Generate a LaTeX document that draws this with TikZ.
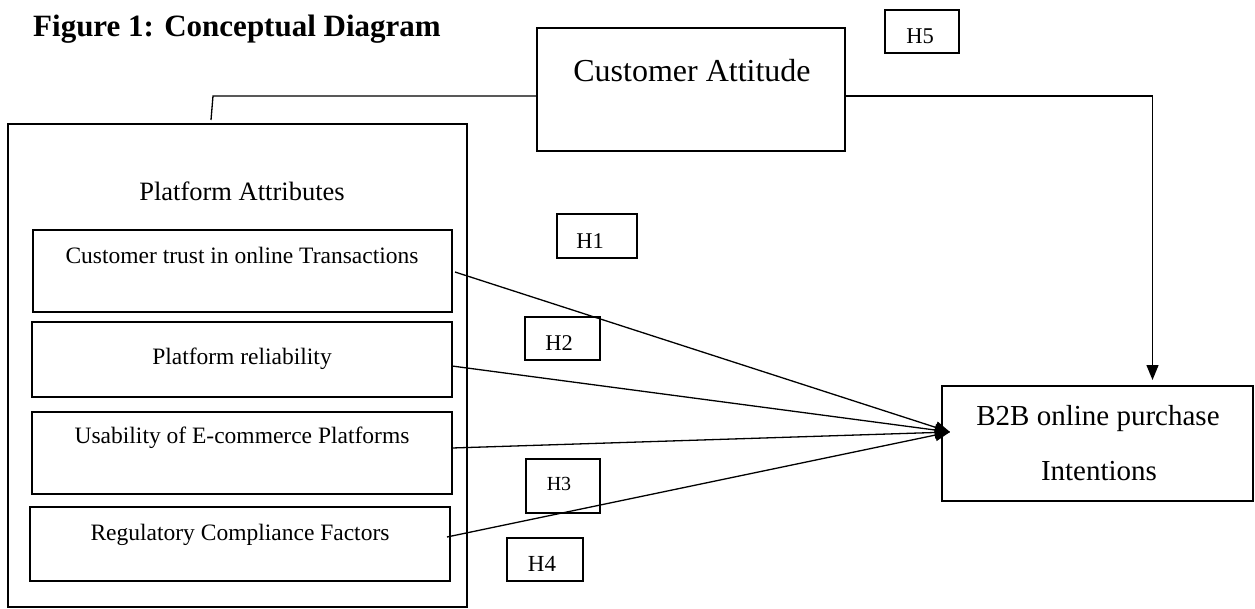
\documentclass[tikz,border=0pt]{standalone}
\usepackage{fontspec}
\setmainfont{Liberation Serif}
\usetikzlibrary{arrows.meta}
\begin{document}
\begin{tikzpicture}[x=1pt,y=-1pt,
  thickbox/.style={draw, line width=2pt, inner sep=0pt, outer sep=0pt, anchor=north west},
  midbox/.style={draw, line width=1.7pt, inner sep=0pt, outer sep=0pt, anchor=north west},
  hbox/.style={draw, line width=1.3pt, inner sep=0pt, outer sep=0pt, anchor=north west},
  txt/.style={inner sep=0pt, anchor=base},
  conn/.style={line width=1.3pt},
  tip/.style={-{Triangle[length=15pt,width=12pt]}}
]
\useasboundingbox (0,0) rectangle (1255,608);

% title
\node[inner sep=0pt, anchor=base west, font=\fontsize{31}{36}\selectfont\bfseries] (title) at (33,36) {Figure 1: Conceptual Diagram};

% boxes
\node[thickbox, minimum width=308pt, minimum height=123pt] (ca) at (537,28) {};
\node[hbox, minimum width=74pt, minimum height=43pt] (h5) at (885,10) {};
\node[thickbox, minimum width=459pt, minimum height=483pt] (pa) at (8,124) {};
\node[midbox, minimum width=419pt, minimum height=82pt] (b1) at (33,230) {};
\node[midbox, minimum width=420pt, minimum height=75pt] (b2) at (32,322) {};
\node[midbox, minimum width=420pt, minimum height=82pt] (b3) at (32,412) {};
\node[midbox, minimum width=420pt, minimum height=74pt] (b4) at (30,507) {};
\node[hbox, minimum width=80pt, minimum height=44pt] (h1) at (557,214) {};
\node[hbox, minimum width=75pt, minimum height=43pt] (h2) at (525,317) {};
\node[hbox, minimum width=74pt, minimum height=54pt] (h3) at (526,459) {};
\node[hbox, minimum width=76pt, minimum height=43pt] (h4) at (507,538) {};
\node[thickbox, minimum width=311pt, minimum height=115pt] (b2b) at (942,386) {};

% texts
\node[txt, font=\fontsize{32}{38}\selectfont] (catext) at (692,81) {Customer Attitude};
\node[txt, font=\fontsize{26.5}{32}\selectfont] (patext) at (242,200) {Platform Attributes};
\node[txt, font=\fontsize{23.5}{28}\selectfont] (t1) at (242,263) {Customer trust in online Transactions};
\node[txt, font=\fontsize{23.5}{28}\selectfont] (t2) at (242,364) {Platform reliability};
\node[txt, font=\fontsize{23.5}{28}\selectfont] (t3) at (242,443) {Usability of E-commerce Platforms};
\node[txt, font=\fontsize{23.5}{28}\selectfont] (t4) at (240,540) {Regulatory Compliance Factors};
\node[txt, font=\fontsize{22.5}{27}\selectfont] (h1t) at (590,248) {H1};
\node[txt, font=\fontsize{22.5}{27}\selectfont] (h2t) at (559,350) {H2};
\node[txt, font=\fontsize{20}{24}\selectfont] (h3t) at (559,490) {H3};
\node[txt, font=\fontsize{23}{27}\selectfont] (h4t) at (542,571) {H4};
\node[txt, font=\fontsize{22.5}{27}\selectfont] (h5t) at (920,43) {H5};
\node[txt, font=\fontsize{29}{34}\selectfont] (b2bt1) at (1098,425) {B2B online purchase};
\node[txt, font=\fontsize{29}{34}\selectfont] (b2bt2) at (1099,480) {Intentions};

% connectors
\coordinate (caw) at ([yshift=-6.5pt]ca.west);
\coordinate (kink) at (213,96);
\coordinate (stub) at (211,120);
\coordinate (meet) at (950,432);
\draw[conn] (caw) -- (caw -| kink) -- (stub);
\draw[conn, tip] ([yshift=-6.5pt]ca.east) -| ([xshift=55pt,yshift=6pt]b2b.north);
\draw[conn, tip] ([xshift=3pt,yshift=-1pt]b1.east) -- (meet);
\draw[conn, tip] ([yshift=-6.5pt]b2.east) -- (meet);
\draw[conn, tip] ([yshift=5pt]b3.east) -- (meet);
\draw[conn, tip] ([xshift=-3pt,yshift=7pt]b4.east) -- (meet);
\end{tikzpicture}
\end{document}
